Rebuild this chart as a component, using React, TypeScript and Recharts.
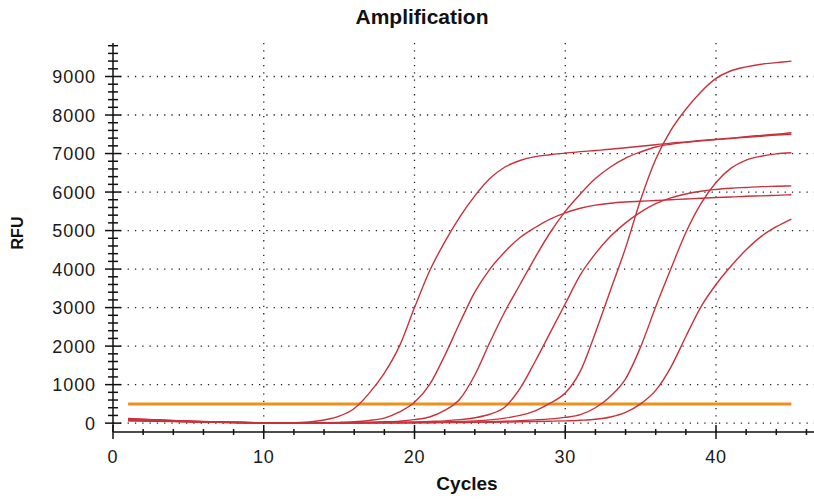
import { LineChart, Line, XAxis, YAxis, CartesianGrid, ReferenceLine } from "recharts";

const CYCLES = [
  1, 2, 3, 4, 5, 6, 7, 8, 9, 10, 11, 12, 13, 14, 15, 16, 17, 18, 19, 20, 21, 22, 23,
  24, 25, 26, 27, 28, 29, 30, 31, 32, 33, 34, 35, 36, 37, 38, 39, 40, 41, 42, 43, 44, 45,
];

// RFU per cycle, one array per well
const WELL_A = [
  110, 95, 80, 65, 50, 40, 30, 22, 15, 10, 8, 10, 30, 80, 180, 380, 780, 1300, 2000, 3000,
  3950, 4700, 5350, 5900, 6350, 6650, 6820, 6920, 6970, 7010, 7050, 7080, 7110, 7150, 7190,
  7230, 7270, 7300, 7340, 7370, 7400, 7440, 7470, 7500, 7540,
];
const WELL_B = [
  90, 80, 68, 55, 45, 35, 25, 18, 12, 8, 5, 5, 8, 12, 20, 35, 70, 130, 290, 540, 1000, 1750,
  2600, 3400, 4000, 4450, 4820, 5080, 5300, 5460, 5580, 5660, 5710, 5740, 5760, 5780, 5800,
  5820, 5840, 5860, 5870, 5890, 5900, 5915, 5930,
];
const WELL_C = [
  120, 100, 85, 70, 55, 42, 32, 24, 16, 10, 6, 4, 5, 8, 12, 18, 25, 35, 50, 90, 160, 330, 620,
  1250, 2100, 2900, 3600, 4300, 4950, 5500, 5950, 6350, 6650, 6880, 7040, 7170, 7240, 7290,
  7330, 7360, 7390, 7420, 7450, 7480, 7500,
];
const WELL_D = [
  70, 62, 54, 46, 38, 30, 22, 15, 10, 6, 4, 3, 4, 5, 7, 10, 13, 17, 22, 30, 45, 60, 90, 140,
  230, 420, 900, 1600, 2350, 3100, 3850, 4400, 4850, 5200, 5480, 5700, 5850, 5950, 6020, 6070,
  6100, 6120, 6140, 6150, 6160,
];
const WELL_E = [
  100, 88, 75, 62, 50, 38, 28, 20, 14, 9, 6, 4, 4, 5, 6, 8, 10, 13, 16, 20, 26, 34, 45, 60, 85,
  130, 200, 320, 520, 780, 1350, 2350, 3450, 4550, 5800, 6850, 7600, 8150, 8600, 8950, 9150,
  9250, 9320, 9360, 9400,
];
const WELL_F = [
  60, 54, 47, 40, 33, 26, 20, 14, 9, 5, 3, 2, 2, 3, 4, 5, 6, 8, 10, 12, 15, 19, 24, 30, 38, 50,
  65, 85, 110, 150, 220, 400, 700, 1150, 1980, 3020, 4000, 4950, 5700, 6250, 6620, 6830, 6930,
  6990, 7020,
];
const WELL_G = [
  80, 70, 60, 50, 40, 32, 24, 17, 11, 7, 4, 3, 3, 3, 4, 5, 6, 7, 8, 10, 12, 14, 17, 20, 24, 29,
  35, 42, 50, 60, 75, 100, 160, 280, 500, 850, 1450, 2250, 3020, 3600, 4080, 4500, 4850, 5100,
  5300,
];

const THRESHOLD = 500;
const Y_TICKS = [0, 1000, 2000, 3000, 4000, 5000, 6000, 7000, 8000, 9000];
const X_TICKS = [0, 10, 20, 30, 40];

const WELLS = [WELL_A, WELL_B, WELL_C, WELL_D, WELL_E, WELL_F, WELL_G];
const data = CYCLES.map((cycle, i) => {
  const row: any = { cycle };
  WELLS.forEach((w, k) => (row["w" + k] = w[i]));
  return row;
});

// minor ticks every 2 cycles / 200 RFU
const xMinor: number[] = [];
for (let v = 0; v <= 46; v += 2) xMinor.push(v);
const yMinor: number[] = [];
for (let v = 0; v <= 9800; v += 200) yMinor.push(v);

const FONT = "'Liberation Sans', Arial, sans-serif";
const RED = "#c8323c";

const BottomTick = (props: any) => {
  const { x, y, payload } = props;
  const major = payload.value % 10 === 0;
  return (
    <g>
      <line x1={x} x2={x} y1={y - (major ? 7 : 3)} y2={y + (major ? 7 : 3)} stroke="#111" strokeWidth={1.5} />
      {major && (
        <text x={x} y={y + 31} textAnchor="middle" fontSize={18} letterSpacing={0.8} fontFamily={FONT} fill="#1a1a1a">
          {payload.value}
        </text>
      )}
    </g>
  );
};

const TopTick = (props: any) => {
  const { x, y, payload } = props;
  const major = payload.value % 10 === 0;
  return <line x1={x} x2={x} y1={y} y2={y + (major ? 7 : 4)} stroke="#111" strokeWidth={1.2} />;
};

const LeftTick = (props: any) => {
  const { x, y, payload } = props;
  const major = payload.value % 1000 === 0;
  return (
    <g>
      <line x1={x - (major ? 8 : 5)} x2={x + (major ? 8 : 5)} y1={y} y2={y} stroke="#111" strokeWidth={1.5} />
      {major && (
        <text x={x - 17} y={y} dy="0.36em" textAnchor="end" fontSize={18} letterSpacing={0.9} fontFamily={FONT} fill="#1a1a1a">
          {payload.value}
        </text>
      )}
    </g>
  );
};

export default function App() {
  return (
    <div style={{ position: "absolute", left: 0, top: 0, width: 814, height: 501, background: "#fff", overflow: "hidden" }}>
      <div
        style={{
          position: "absolute",
          left: 322,
          top: 5,
          width: 200,
          textAlign: "center",
          fontFamily: FONT,
          fontWeight: "bold",
          fontSize: 21,
          color: "#111",
        }}
      >
        Amplification
      </div>
      <div
        style={{
          position: "absolute",
          left: 18,
          top: 233,
          transform: "translate(-50%, -50%) rotate(-90deg)",
          fontFamily: FONT,
          fontWeight: "bold",
          fontSize: 16,
          color: "#111",
        }}
      >
        RFU
      </div>
      <div
        style={{
          position: "absolute",
          left: 367,
          top: 473,
          width: 200,
          textAlign: "center",
          fontFamily: FONT,
          fontWeight: "bold",
          fontSize: 19,
          color: "#111",
        }}
      >
        Cycles
      </div>
      <div style={{ position: "absolute", left: 0, top: 0 }}>
        <LineChart width={814} height={501} data={data} margin={{ top: 43, right: 0, bottom: 29, left: 13 }}>
          <CartesianGrid
            horizontalValues={Y_TICKS}
            verticalValues={X_TICKS.filter((v) => v > 0)}
            stroke="#222"
            strokeWidth={1.3}
            strokeDasharray="1.3 6"
          />
          <XAxis
            dataKey="cycle"
            type="number"
            domain={[0, 46.5]}
            ticks={xMinor}
            interval={0}
            height={40}
            tickSize={0}
            tickMargin={0}
            tickLine={false}
            axisLine={{ stroke: "#111", strokeWidth: 1.5 }}
            tick={<BottomTick />}
            allowDataOverflow
          />
          <XAxis
            xAxisId="top"
            orientation="top"
            dataKey="cycle"
            type="number"
            domain={[0, 46.5]}
            ticks={xMinor}
            interval={0}
            height={0}
            tickSize={0}
            tickMargin={0}
            tickLine={false}
            axisLine={{ stroke: "#111", strokeWidth: 1.5 }}
            tick={<TopTick />}
            allowDataOverflow
          />
          <YAxis
            type="number"
            domain={[-230, 9870]}
            ticks={yMinor}
            interval={0}
            width={100}
            tickSize={0}
            tickMargin={0}
            tickLine={false}
            axisLine={{ stroke: "#111", strokeWidth: 1.5 }}
            tick={<LeftTick />}
            allowDataOverflow
          />
          <ReferenceLine
            segment={[
              { x: 1, y: THRESHOLD },
              { x: 45, y: THRESHOLD },
            ]}
            stroke="#f0901c"
            strokeWidth={3}
          />
          {WELLS.map((_, k) => (
            <Line
              key={k}
              type="monotone"
              dataKey={"w" + k}
              stroke={RED}
              strokeWidth={1.4}
              dot={false}
              isAnimationActive={false}
            />
          ))}
        </LineChart>
      </div>
    </div>
  );
}
